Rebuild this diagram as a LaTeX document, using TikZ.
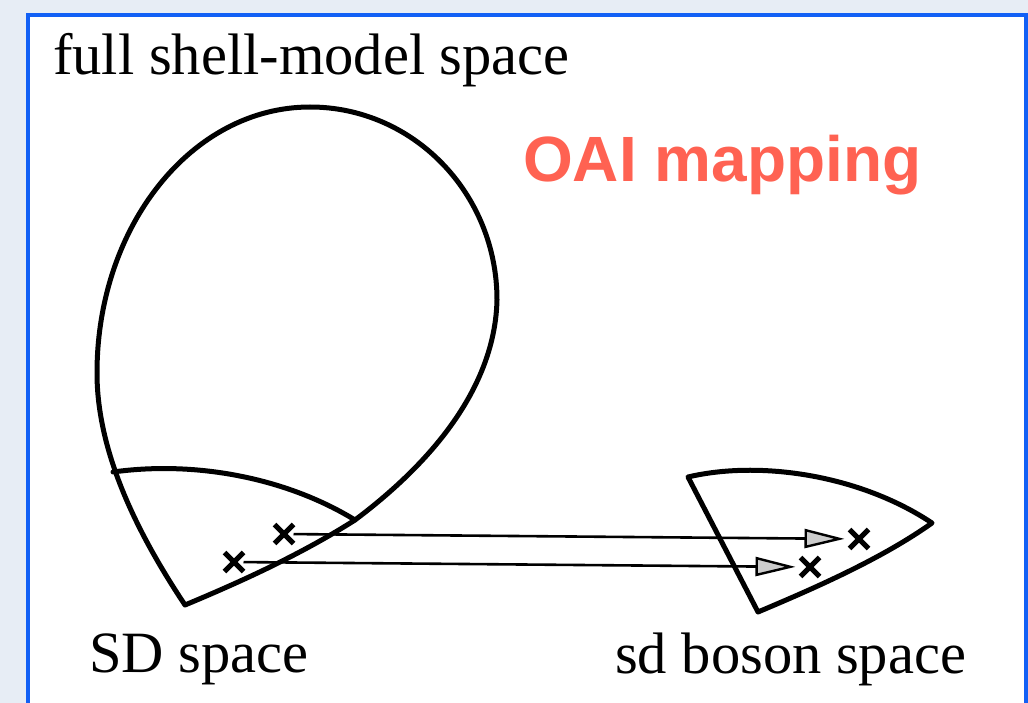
\documentclass[tikz,border=0pt]{standalone}
\usepackage{fontspec}
\setmainfont{Liberation Serif}
\newfontfamily\oaifont{Liberation Sans}
\usetikzlibrary{arrows.meta,shapes.misc}
\definecolor{bgblue}{RGB}{231,237,245}
\definecolor{frameblue}{RGB}{18,96,245}
\definecolor{oaired}{RGB}{255,98,82}
\tikzset{
  region/.style={draw=black,line width=5pt,line join=round,line cap=round},
  xmark/.style={cross out,draw=black,line width=5pt,minimum size=13pt,inner sep=0pt,outer sep=3pt},
  maparrow/.style={draw=black,line width=2.6pt,
    -{Triangle[length=40pt,width=19pt,fill=gray!40,line width=2.4pt]}},
  lbl/.style={inner sep=0pt,anchor=base west,font=\fontsize{58.5}{60}\selectfont},
}
\begin{document}
\begin{tikzpicture}[x=1pt,y=-1pt]
\useasboundingbox (0,0) rectangle (1028,703);
\clip (0,0) rectangle (1028,703);
\fill[bgblue] (0,0) rectangle (1028,703);
\draw[frameblue,fill=white,line width=4pt] (28,15) rectangle (1026,730);

% full shell-model space (loop)
\draw[region] (185,605) .. controls (135,530) and (97,450) .. (97,373)
  .. controls (97,226) and (192,107) .. (310,107)
  .. controls (413,107) and (497,193) .. (497,300)
  .. controls (495,385) and (435,460) .. (355,520)
  .. controls (300,555) and (240,582) .. (185,605);
% SD space boundary arc
\draw[region] (113,472) .. controls (200,460) and (290,480) .. (355,520);

% sd boson space
\draw[region] (688,477) .. controls (760,460) and (860,475) .. (932,523)
  .. controls (880,560) and (810,590) .. (758,612) -- cycle;

% points
\node[xmark] (s1) at (284,534) {};
\node[xmark] (s2) at (234,562) {};
\node[xmark] (b1) at (859,539) {};
\node[xmark] (b2) at (810,567) {};
\draw[maparrow,shorten >=5pt] (s1) -- (b1);
\draw[maparrow,shorten >=5pt] (s2) -- (b2);

% labels
\node[lbl] (tfull) at (53,75) {full shell-model space};
\node[lbl] (tsd) at (89,672) {SD space};
\node[lbl] (tsdb) at (615,673) {sd boson space};
\node[inner sep=0pt,anchor=base west,text=oaired,font=\oaifont\bfseries\fontsize{64}{66}\selectfont] (toai) at (523,182) {OAI mapping};
\end{tikzpicture}
\end{document}
